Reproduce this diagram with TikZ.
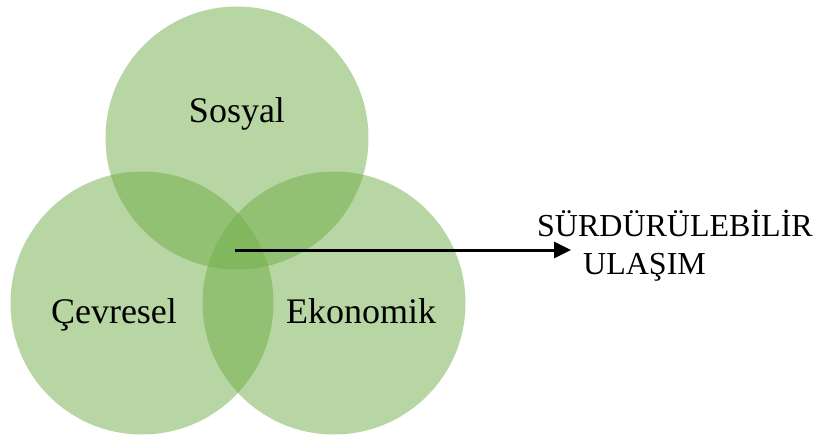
\documentclass[tikz,border=0pt]{standalone}
\usepackage{fontspec}
\setmainfont{Liberation Serif}
\usetikzlibrary{positioning}
\usetikzlibrary{arrows.meta}
\definecolor{leafgreen}{RGB}{112,173,71}

\begin{document}
\begin{tikzpicture}
	[x=1pt,y=-1pt, circ/.style={circle,fill=leafgreen,fill opacity=0.5,minimum size=263pt,inner sep=0pt},label/.style={font=\fontsize{36}{40}\selectfont,anchor=base},goal/.style={font=\fontsize{32}{36}\selectfont,anchor=base west,inner sep=0pt}]
	\useasboundingbox (0,0) rectangle (823,437);
	\node[circ] (sosyal) at (237,138) {};
	\node[circ] (cevre) at (142,303) {};
	\node[circ] (ekonomi) at (334,303) {};
	\node[label] (sosyaltxt) at (237,122) {Sosyal};
	\node[label] (cevretxt) at (114,323) {Çevresel};
	\node[label] (ekonomitxt) at (361,323) {Ekonomik};
	\node[goal] (surd) at (537,236) {SÜRDÜRÜLEBİLİR};
	\node[goal] (ulasim) at (583,274) {ULAŞIM};
	\coordinate (core) at (235,250);
	\coordinate (tip) at (571,250);
	\draw [-{Triangle[length=17pt,width=16pt]},line width=3pt] (core) -- (tip);
\end{tikzpicture}
\end{document}
